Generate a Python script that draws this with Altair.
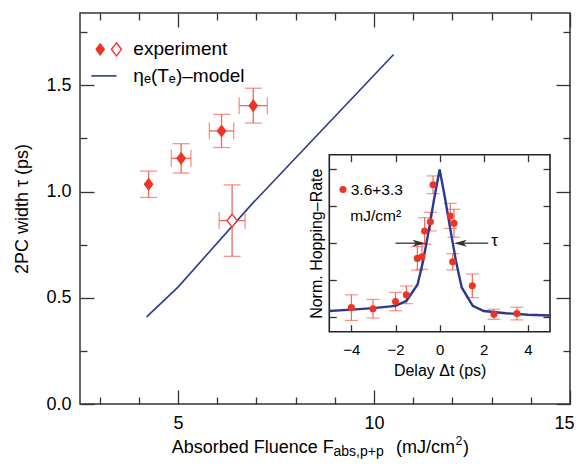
import altair as alt
import pandas as pd

# ---------------- main panel values ----------------
fluence_filled = [4.25, 5.08, 6.11, 6.92]
width_filled = [1.034, 1.156, 1.285, 1.404]
width_err_filled = [0.062, 0.069, 0.078, 0.082]
fluence_err_filled = [0.0, 0.25, 0.31, 0.36]

fluence_open = [6.38]
width_open = [0.863]
width_err_open = [0.168]
fluence_err_open = [0.33]

model_fluence = [4.2, 5.0, 6.9, 10.5]
model_width = [0.41, 0.55, 0.944, 1.645]

main_x_major = [5, 10, 15]
main_x_minor = [3, 4, 6, 7, 8, 9, 11, 12, 13, 14]
main_y_major = [0.0, 0.5, 1.0, 1.5]
main_y_minor = [0.25, 0.75, 1.25, 1.75]
main_x_domain = [2.5, 15]
main_y_domain = [0, 1.84]

# ---------------- inset values ----------------
delay = [-4.0, -3.02, -2.0, -1.51, -1.01, -0.80, -0.68, -0.42, -0.30, 0.48, 0.65, 0.59, 1.48, 2.46, 3.5]
rate = [0.063, 0.056, 0.104, 0.15, 0.397, 0.408, 0.583, 0.646, 0.896, 0.685, 0.635, 0.374, 0.211, 0.018, 0.023]
rate_err = [0.087, 0.063, 0.062, 0.06, 0.08, 0.085, 0.09, 0.063, 0.06, 0.085, 0.095, 0.055, 0.08, 0.034, 0.043]

curve_delay = [-5, -4, -3, -2, -1.5, -1, -0.75, -0.5, -0.25, 0, 0.25, 0.5, 0.75, 1, 1.5, 2, 3, 4, 5]
curve_rate = [0.04, 0.05, 0.06, 0.075, 0.11, 0.22, 0.38, 0.58, 0.80, 1.0, 0.80, 0.58, 0.37, 0.20, 0.075, 0.04, 0.025, 0.015, 0.01]

inset_x_ticks = [-4, -2, 0, 2, 4]
inset_y_ticks = [0, 0.25, 0.5, 0.75, 1.0]
inset_x_domain = [-5, 5]
inset_y_domain = [-0.1, 1.1]

# ---------------- styling ----------------
RED = "#ee3426"
ERR = "#f1675a"
NAVY = "#2c3a8e"
INK = "#333333"
FONT = "Liberation Sans"
DIAMOND = "M0,-1.25L0.95,0L0,1.25L-0.95,0Z"
ARROW_R = "M0,0L-2,-0.55L-1.5,0L-2,0.55Z"
ARROW_L = "M0,0L2,-0.55L1.5,0L2,0.55Z"
W, H = 490, 391

MX = alt.Scale(domain=main_x_domain, nice=False, zero=False)
MY = alt.Scale(domain=main_y_domain, nice=False, zero=False)
IX = alt.Scale(domain=inset_x_domain, range=[249.3, 470], nice=False, zero=False)
IY = alt.Scale(domain=inset_y_domain, range=[318.7, 141.7], nice=False, zero=False)


def ax(**kw):
    base = dict(domain=False, grid=False, tickColor=INK, tickWidth=1.3, labels=False,
                labelFlush=False, title=None)
    base.update(kw)
    return alt.Axis(**base)


def enc(xs, ys, xf="x", yf="y", **extra):
    return dict(x=alt.X(f"{xf}:Q", scale=xs, axis=None), y=alt.Y(f"{yf}:Q", scale=ys, axis=None), **extra)


def axis_layer(df, xs, ys, xa, ya):
    return alt.Chart(df).mark_point(opacity=0).encode(
        x=alt.X("x:Q", scale=xs, axis=xa), y=alt.Y("y:Q", scale=ys, axis=ya))


one = pd.DataFrame({"a": [0]})

# ---------------- main panel ----------------
model_df = pd.DataFrame({"x": model_fluence, "y": model_width})
exp_df = pd.DataFrame({
    "x": fluence_filled + fluence_open,
    "y": width_filled + width_open,
    "ye": width_err_filled + width_err_open,
    "xe": fluence_err_filled + fluence_err_open,
    "kind": ["filled"] * len(fluence_filled) + ["open"] * len(fluence_open),
})
exp = alt.Chart(exp_df).transform_calculate(
    ylo="datum.y - datum.ye", yhi="datum.y + datum.ye",
    xlo="datum.x - datum.xe", xhi="datum.x + datum.xe")

main_layers = [
    axis_layer(model_df, MX, MY,
               ax(orient="bottom", values=main_x_major, tickSize=14, offset=-14, labels=True,
                  labelPadding=10, labelFontSize=18, format="d",
                  labelFlush=True, labelFlushOffset=4),
               ax(orient="left", values=main_y_major, tickSize=14, offset=-14, labels=True,
                  labelPadding=9, labelFontSize=18, format=".1f",
                  title="2PC width τ (ps)", titleFontSize=18, titlePadding=14)),
    axis_layer(model_df, MX, MY,
               ax(orient="bottom", values=main_x_minor, tickSize=7, offset=-7),
               ax(orient="left", values=main_y_minor, tickSize=7, offset=-7)),
    axis_layer(model_df, MX, MY,
               ax(orient="top", values=main_x_major, tickSize=14, offset=-14),
               ax(orient="right", values=main_y_major, tickSize=14, offset=-14)),
    axis_layer(model_df, MX, MY,
               ax(orient="top", values=main_x_minor, tickSize=7, offset=-7),
               ax(orient="right", values=main_y_minor, tickSize=7, offset=-7)),
    alt.Chart(model_df).mark_line(color=NAVY, strokeWidth=1.6).encode(**enc(MX, MY)),
    exp.mark_rule(color=ERR, strokeWidth=1.3).encode(**enc(MX, MY, yf="ylo", y2=alt.Y2("yhi:Q"))),
    exp.transform_fold(["ylo", "yhi"], as_=["k", "v"]).mark_tick(
        orient="horizontal", size=17, thickness=1.3, color=ERR).encode(**enc(MX, MY, yf="v")),
    exp.transform_filter("datum.xe > 0").mark_rule(color=ERR, strokeWidth=1.3).encode(
        **enc(MX, MY, xf="xlo", x2=alt.X2("xhi:Q"))),
    exp.transform_filter("datum.xe > 0").transform_fold(["xlo", "xhi"], as_=["k", "v"]).mark_tick(
        orient="vertical", size=17, thickness=1.3, color=ERR).encode(**enc(MX, MY, xf="v")),
    exp.transform_filter("datum.kind == 'filled'").mark_point(
        shape=DIAMOND, filled=True, size=110, color=RED, opacity=1).encode(**enc(MX, MY)),
    exp.transform_filter("datum.kind == 'open'").mark_point(
        shape=DIAMOND, filled=True, fill="white", stroke=RED, strokeWidth=1.4, size=110,
        opacity=1).encode(**enc(MX, MY)),
]

# main legend
leg_sym = pd.DataFrame({"x": [3.015, 3.43], "y": [1.669, 1.669], "kind": ["filled", "open"]})
leg_line = pd.DataFrame({"x": [2.79], "x2": [3.43], "y": [1.544]})
leg_text = pd.DataFrame({"x": [3.86, 3.86], "y": [1.669, 1.544], "t": ["experiment", "ηₑ(Tₑ)–model"]})
main_layers += [
    alt.Chart(leg_sym).transform_filter("datum.kind == 'filled'").mark_point(
        shape=DIAMOND, filled=True, size=110, color=RED, opacity=1).encode(**enc(MX, MY)),
    alt.Chart(leg_sym).transform_filter("datum.kind == 'open'").mark_point(
        shape=DIAMOND, filled=True, fill="white", stroke=RED, strokeWidth=1.4, size=110,
        opacity=1).encode(**enc(MX, MY)),
    alt.Chart(leg_line).mark_rule(color=NAVY, strokeWidth=1.6).encode(**enc(MX, MY, x2=alt.X2("x2:Q"))),
    alt.Chart(leg_text).mark_text(align="left", baseline="middle", fontSize=19, color="black").encode(
        **enc(MX, MY, text="t:N")),
]

# main x title with subscript and superscript
TB = 439.5
main_layers += [
    alt.Chart(one).mark_text(align="left", baseline="alphabetic", fontSize=18, color="black").encode(
        x=alt.value(91.7), y=alt.value(TB), text=alt.value("Absorbed Fluence F")),
    alt.Chart(one).mark_text(align="left", baseline="alphabetic", fontSize=14, color="black").encode(
        x=alt.value(253.5), y=alt.value(TB + 3), text=alt.value("abs,p+p")),
    alt.Chart(one).mark_text(align="left", baseline="alphabetic", fontSize=18, color="black").encode(
        x=alt.value(316), y=alt.value(TB), text=alt.value("(mJ/cm")),
    alt.Chart(one).mark_text(align="left", baseline="alphabetic", fontSize=12.5, color="black").encode(
        x=alt.value(375.5), y=alt.value(TB - 7.7), text=alt.value("2")),
    alt.Chart(one).mark_text(align="left", baseline="alphabetic", fontSize=18, color="black").encode(
        x=alt.value(383), y=alt.value(TB), text=alt.value(")")),
]

# ---------------- inset ----------------
frame_df = pd.DataFrame({"x": [inset_x_domain[0]], "x2": [inset_x_domain[1]],
                         "y": [inset_y_domain[0]], "y2": [inset_y_domain[1]]})
curve_df = pd.DataFrame({"x": curve_delay, "y": curve_rate})
pts_df = pd.DataFrame({"x": delay, "y": rate, "e": rate_err})
pts = alt.Chart(pts_df).transform_calculate(lo="datum.y - datum.e", hi="datum.y + datum.e")

shaft_df = pd.DataFrame({"x": [-2.0, 0.9], "x2": [-0.9, 2.2], "y": [0.5, 0.5]})
head_df = pd.DataFrame({"x": [-0.64, 0.64], "y": [0.5, 0.5], "d": ["r", "l"]})
inset_text = pd.DataFrame({"x": [-4.03, -4.05], "y": [0.864, 0.687], "t": ["3.6+3.3", "mJ/cm²"]})
inset_dot = pd.DataFrame({"x": [-4.38], "y": [0.864]})
tau_df = pd.DataFrame({"x": [2.34], "y": [0.5], "t": ["τ"]})

inset_layers = [
    alt.Chart(frame_df).mark_rect(fill="white", stroke="#222222", strokeWidth=1.6).encode(
        **enc(IX, IY, x2=alt.X2("x2:Q"), y2=alt.Y2("y2:Q"))),
    axis_layer(curve_df, IX, IY,
               ax(orient="bottom", values=inset_x_ticks, tickSize=7, offset=311.7 - H, labels=True,
                  labelPadding=11, labelFontSize=15, format="d", zindex=1,
                  title="Delay Δt (ps)", titleFontSize=16, titlePadding=5),
               ax(orient="left", values=inset_y_ticks, tickSize=7, offset=-256.3, zindex=1,
                  title="Norm. Hopping–Rate", titleFontSize=16, titlePadding=4)),
    axis_layer(curve_df, IX, IY,
               ax(orient="top", values=inset_x_ticks, tickSize=7, offset=-148.7, zindex=1),
               ax(orient="right", values=inset_y_ticks, tickSize=7, offset=463 - W, zindex=1)),
    pts.mark_rule(color=ERR, strokeWidth=1.2).encode(**enc(IX, IY, yf="lo", y2=alt.Y2("hi:Q"))),
    pts.transform_fold(["lo", "hi"], as_=["k", "v"]).mark_tick(
        orient="horizontal", size=13, thickness=1.2, color=ERR).encode(**enc(IX, IY, yf="v")),
    alt.Chart(curve_df).mark_line(color=NAVY, strokeWidth=2.4).encode(**enc(IX, IY)),
    pts.mark_circle(size=50, color=RED, opacity=1).encode(**enc(IX, IY)),
    alt.Chart(shaft_df).mark_rule(color=INK, strokeWidth=1.3).encode(**enc(IX, IY, x2=alt.X2("x2:Q"))),
    alt.Chart(head_df).transform_filter("datum.d == 'r'").mark_point(
        shape=ARROW_R, filled=True, size=169, color=INK, opacity=1).encode(**enc(IX, IY)),
    alt.Chart(head_df).transform_filter("datum.d == 'l'").mark_point(
        shape=ARROW_L, filled=True, size=169, color=INK, opacity=1).encode(**enc(IX, IY)),
    alt.Chart(inset_dot).mark_circle(size=50, color=RED, opacity=1).encode(**enc(IX, IY)),
    alt.Chart(inset_text).mark_text(align="left", baseline="middle", fontSize=15.5, color="black").encode(
        **enc(IX, IY, text="t:N")),
    alt.Chart(tau_df).mark_text(align="left", baseline="middle", fontSize=17, dy=-2, color="black").encode(
        **enc(IX, IY, text="t:N")),
]

main = alt.layer(*main_layers).resolve_axis(x="independent", y="independent")
inset = alt.layer(*inset_layers).resolve_axis(x="independent", y="independent")

chart = alt.layer(main, inset).resolve_scale(x="independent", y="independent").properties(
    width=W, height=H,
    autosize=alt.AutoSizeParams(type="none"),
    padding={"left": 72, "top": 5, "right": 4, "bottom": 55},
).configure_view(
    stroke=INK, strokeWidth=1.5
).configure_axis(
    labelFont=FONT, titleFont=FONT, titleFontWeight="normal", labelColor="black", titleColor="black"
).configure_text(font=FONT)

chart.save("out.html", embed_options={"renderer": "svg", "actions": False})
